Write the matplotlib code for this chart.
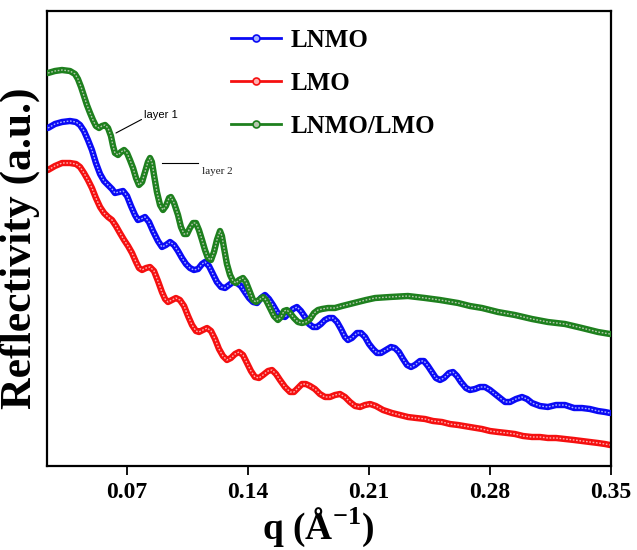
import matplotlib
matplotlib.use("Agg")
import matplotlib.pyplot as plt
from matplotlib.lines import Line2D

# ---------------- data ----------------
q_lnmo = [0.0243, 0.0283, 0.0324, 0.0370, 0.0405, 0.0428, 0.0451, 0.0474, 0.0497, 0.0520,
          0.0544, 0.0567, 0.0590, 0.0613, 0.0630, 0.0654, 0.0677, 0.0700, 0.0723, 0.0746,
          0.0763, 0.0781, 0.0804, 0.0827, 0.0850, 0.0879, 0.0902, 0.0925, 0.0949, 0.0972,
          0.0995, 0.1018, 0.1041, 0.1064, 0.1087, 0.1111, 0.1134, 0.1151, 0.1174, 0.1197,
          0.1220, 0.1244, 0.1267, 0.1290, 0.1313, 0.1336, 0.1359, 0.1382, 0.1406, 0.1429,
          0.1452, 0.1475, 0.1498, 0.1521, 0.1544, 0.1568, 0.1591, 0.1614, 0.1637, 0.1660,
          0.1683, 0.1706, 0.1730, 0.1753, 0.1776, 0.1799, 0.1822, 0.1845, 0.1868, 0.1892,
          0.1915, 0.1938, 0.1961, 0.1978, 0.2001, 0.2030, 0.2054, 0.2077, 0.2100, 0.2123,
          0.2146, 0.2169, 0.2198, 0.2227, 0.2250, 0.2273, 0.2297, 0.2320, 0.2343, 0.2366,
          0.2395, 0.2418, 0.2441, 0.2464, 0.2487, 0.2511, 0.2534, 0.2563, 0.2586, 0.2609,
          0.2632, 0.2661, 0.2684, 0.2713, 0.2742, 0.2771, 0.2800, 0.2829, 0.2858, 0.2887,
          0.2916, 0.2950, 0.2985, 0.3014, 0.3043, 0.3089, 0.3135, 0.3182, 0.3234, 0.3286,
          0.3332, 0.3378, 0.3425, 0.3465, 0.3494]
r_lnmo = [338, 342, 344, 345, 344, 341, 335, 326, 316, 303,
          292, 285, 281, 277, 273, 274, 275, 270, 260, 251,
          246, 247, 249, 244, 235, 225, 219, 221, 224, 221,
          215, 208, 202, 198, 196, 197, 202, 204, 200, 192,
          184, 179, 178, 181, 184, 183, 180, 174, 168, 164,
          163, 168, 171, 167, 161, 154, 150, 149, 153, 157,
          159, 155, 149, 142, 139, 139, 142, 146, 148, 148,
          144, 137, 129, 126, 128, 133, 133, 129, 122, 117,
          113, 113, 116, 119, 118, 114, 107, 101, 99, 101,
          105, 105, 100, 94, 88, 86, 88, 93, 94, 90,
          84, 78, 76, 77, 79, 79, 76, 72, 68, 64,
          64, 67, 69, 67, 63, 60, 59, 61, 61, 58,
          58, 57, 55, 54, 53]

q_lmo = [0.0243, 0.0283, 0.0324, 0.0370, 0.0405, 0.0428, 0.0451, 0.0474, 0.0497, 0.0520,
         0.0544, 0.0567, 0.0590, 0.0613, 0.0636, 0.0659, 0.0683, 0.0706, 0.0729, 0.0752,
         0.0769, 0.0787, 0.0810, 0.0833, 0.0856, 0.0879, 0.0902, 0.0920, 0.0937, 0.0960,
         0.0983, 0.1006, 0.1030, 0.1053, 0.1076, 0.1099, 0.1116, 0.1139, 0.1163, 0.1186,
         0.1209, 0.1232, 0.1255, 0.1278, 0.1301, 0.1325, 0.1348, 0.1371, 0.1394, 0.1417,
         0.1440, 0.1463, 0.1487, 0.1516, 0.1539, 0.1562, 0.1585, 0.1614, 0.1643, 0.1666,
         0.1689, 0.1712, 0.1735, 0.1759, 0.1787, 0.1816, 0.1845, 0.1874, 0.1903, 0.1932,
         0.1961, 0.1990, 0.2019, 0.2048, 0.2077, 0.2106, 0.2140, 0.2181, 0.2233, 0.2279,
         0.2325, 0.2372, 0.2424, 0.2470, 0.2522, 0.2568, 0.2615, 0.2684, 0.2754, 0.2800,
         0.2846, 0.2898, 0.2944, 0.2991, 0.3043, 0.3089, 0.3135, 0.3182, 0.3234, 0.3286,
         0.3332, 0.3378, 0.3425, 0.3465, 0.3494]
r_lmo = [296, 300, 303, 303, 302, 299, 293, 286, 278, 268,
         259, 253, 249, 246, 240, 233, 226, 220, 213, 204,
         198, 196, 198, 199, 195, 185, 174, 167, 164, 166,
         168, 166, 160, 150, 141, 135, 134, 136, 138, 135,
         127, 117, 110, 106, 108, 112, 114, 111, 103, 95,
         89, 88, 91, 95, 96, 92, 86, 79, 74, 74,
         78, 82, 82, 80, 77, 72, 69, 69, 71, 72,
         69, 64, 60, 59, 61, 62, 60, 56, 53, 51,
         49, 48, 47, 45, 44, 42, 41, 39, 37, 35,
         34, 33, 32, 30, 29, 29, 28, 28, 27, 26,
         25, 24, 23, 22, 21]

q_bi = [0.0243, 0.0283, 0.0324, 0.0370, 0.0399, 0.0416, 0.0434, 0.0451, 0.0468, 0.0486,
        0.0503, 0.0520, 0.0538, 0.0555, 0.0573, 0.0590, 0.0607, 0.0619, 0.0630, 0.0648,
        0.0665, 0.0683, 0.0700, 0.0717, 0.0735, 0.0752, 0.0769, 0.0787, 0.0804, 0.0821,
        0.0833, 0.0844, 0.0856, 0.0873, 0.0891, 0.0908, 0.0925, 0.0943, 0.0954, 0.0972,
        0.0995, 0.1012, 0.1030, 0.1047, 0.1064, 0.1082, 0.1099, 0.1116, 0.1134, 0.1151,
        0.1168, 0.1186, 0.1203, 0.1220, 0.1238, 0.1249, 0.1261, 0.1278, 0.1296, 0.1313,
        0.1330, 0.1348, 0.1371, 0.1388, 0.1411, 0.1429, 0.1446, 0.1463, 0.1487, 0.1504,
        0.1527, 0.1550, 0.1573, 0.1591, 0.1608, 0.1625, 0.1643, 0.1666, 0.1689, 0.1712,
        0.1735, 0.1759, 0.1782, 0.1805, 0.1828, 0.1863, 0.1903, 0.1944, 0.1990, 0.2036,
        0.2082, 0.2135, 0.2221, 0.2325, 0.2424, 0.2511, 0.2615, 0.2684, 0.2754, 0.2846,
        0.2944, 0.3043, 0.3135, 0.3234, 0.3332, 0.3425, 0.3494]
r_bi = [393, 395, 396, 395, 392, 387, 379, 370, 361, 353,
        346, 340, 338, 340, 341, 338, 330, 320, 313, 311,
        314, 316, 313, 306, 298, 288, 281, 284, 294, 304,
        308, 304, 291, 274, 261, 256, 260, 268, 269, 263,
        251, 239, 232, 232, 238, 243, 243, 236, 226, 216,
        208, 206, 214, 226, 235, 230, 218, 202, 191, 185,
        183, 186, 188, 184, 174, 166, 164, 166, 169, 166,
        158, 150, 146, 149, 155, 156, 153, 148, 144, 143,
        144, 147, 153, 156, 157, 158, 158, 160, 162, 164,
        166, 168, 169, 170, 168, 166, 163, 160, 158, 154,
        151, 147, 144, 142, 138, 134, 132]

labels = ["LNMO", "LMO", "LNMO/LMO"]
xticks = [0.07, 0.14, 0.21, 0.28, 0.35]
xticklabels = ["0.07", "0.14", "0.21", "0.28", "0.35"]

# ---------------- styling ----------------
plt.rcParams['font.family'] = ['Liberation Serif', 'DejaVu Serif']
plt.rcParams['mathtext.fontset'] = 'custom'
plt.rcParams['mathtext.rm'] = 'Liberation Serif'
plt.rcParams['mathtext.bf'] = 'Liberation Serif:bold'

colors = ['#0a0af5', '#f51010', '#1e801e']
inner = ['#a8b4ff', '#ffb0b0', '#b8c8b0']
zorders = [3, 2, 4]

fig = plt.figure(figsize=(6.37, 5.5), dpi=100)
ax = fig.add_axes([47/637, 84/550, 564/637, 455/550])

series = [(q_lnmo, r_lnmo), (q_lmo, r_lmo), (q_bi, r_bi)]
handles = []
for (q, r), c, ic, z, lab in zip(series, colors, inner, zorders, labels):
    ax.plot(q, r, color=c, lw=4.6, solid_joinstyle='round', solid_capstyle='round', zorder=z)
    ax.plot(q, r, color=ic, lw=1.0, ls=(0, (1.2, 1.2)), zorder=z + 0.1)
    handles.append(Line2D([], [], color=c, lw=2.0, marker='o', ms=5,
                          mfc=ic, mec=c, mew=1.2, label=lab))

ax.set_xlim(0.0237, 0.35)
ax.set_ylim(0, 455)
ax.set_yticks([])
ax.set_xticks(xticks)
ax.set_xticklabels(xticklabels, fontsize=17, fontweight='bold')
ax.tick_params(axis='x', direction='out', length=6.5, width=1.3, pad=5)
for s in ax.spines.values():
    s.set_linewidth(1.6)

ax.set_xlabel(r'q (Å$^{\mathbf{-1}}$)', fontsize=27, fontweight='bold', labelpad=2)
ax.xaxis.label.set_x(0.48)
ax.set_ylabel('Reflectivity (a.u.)', fontsize=31.5, fontweight='bold')
ax.yaxis.set_label_coords(-0.012, 0.478)

leg = ax.legend(handles=handles, loc='upper left', bbox_to_anchor=(0.287, 1.01),
                frameon=False, prop={'size': 18, 'weight': 'bold'},
                handlelength=2.0, handletextpad=0.36, labelspacing=0.8, numpoints=1)

# annotations
ax.annotate('layer 1', xy=(0.0636, 333), xytext=(0.0800, 351), fontsize=8,
            family=['Liberation Sans', 'DejaVu Sans'], ha='left', va='center',
            arrowprops=dict(arrowstyle='-', lw=0.8, color='black', shrinkA=0, shrinkB=0,
                            relpos=(0.0, 0.2)))
ax.annotate('layer 2', xy=(0.0902, 303), xytext=(0.1134, 294), fontsize=8,
            ha='left', va='center', color='#222222')
ax.plot([0.0902, 0.1111], [303, 303], color='black', lw=0.8, zorder=5)

fig.savefig('out.png', dpi=100, facecolor='white')
